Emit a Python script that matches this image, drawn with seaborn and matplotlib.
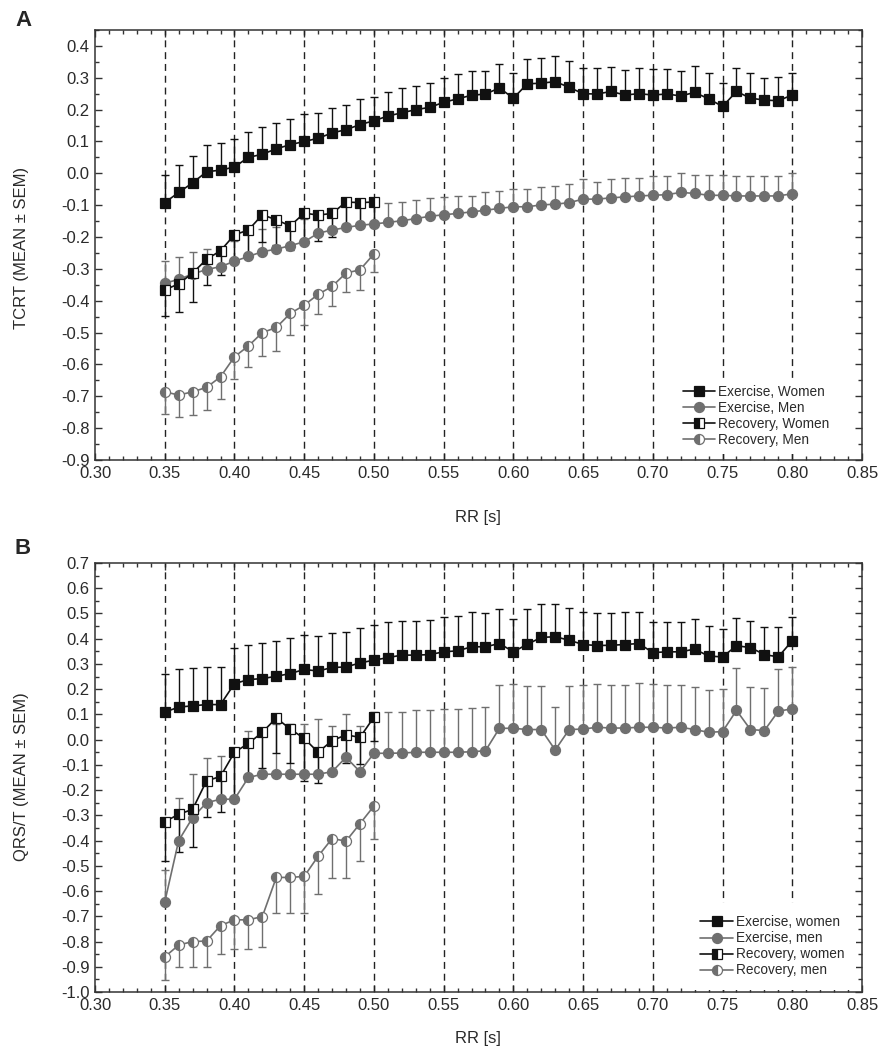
import numpy as np
import pandas as pd
import matplotlib
matplotlib.use('Agg')
import matplotlib.pyplot as plt
import seaborn as sns
from matplotlib.ticker import MultipleLocator, FormatStrFormatter
from matplotlib.lines import Line2D

# RR grid (s)
rr_exercise = [0.35, 0.36, 0.37, 0.38, 0.39, 0.40, 0.41, 0.42, 0.43, 0.44, 0.45, 0.46,
               0.47, 0.48, 0.49, 0.50, 0.51, 0.52, 0.53, 0.54, 0.55, 0.56, 0.57, 0.58,
               0.59, 0.60, 0.61, 0.62, 0.63, 0.64, 0.65, 0.66, 0.67, 0.68, 0.69, 0.70,
               0.71, 0.72, 0.73, 0.74, 0.75, 0.76, 0.77, 0.78, 0.79, 0.80]
rr_recovery = [0.35, 0.36, 0.37, 0.38, 0.39, 0.40, 0.41, 0.42, 0.43, 0.44, 0.45, 0.46,
               0.47, 0.48, 0.49, 0.50]

# Panel A: TCRT
tcrt_ex_women = [-0.092, -0.06, -0.03, 0.005, 0.01, 0.02, 0.05, 0.06, 0.077, 0.09, 0.10, 0.11,
                 0.127, 0.137, 0.153, 0.165, 0.18, 0.19, 0.20, 0.207, 0.223, 0.234, 0.245, 0.249,
                 0.268, 0.236, 0.281, 0.283, 0.288, 0.27, 0.25, 0.249, 0.257, 0.246, 0.25, 0.246,
                 0.249, 0.243, 0.254, 0.234, 0.21, 0.257, 0.236, 0.23, 0.228, 0.246]
tcrt_ex_women_sem = [0.087, 0.085, 0.085, 0.085, 0.085, 0.088, 0.08, 0.085, 0.081, 0.08, 0.086, 0.08,
                     0.078, 0.078, 0.08, 0.075, 0.074, 0.078, 0.075, 0.078, 0.077, 0.078, 0.075, 0.071,
                     0.076, 0.079, 0.077, 0.078, 0.081, 0.083, 0.08, 0.081, 0.078, 0.079, 0.082, 0.081,
                     0.08, 0.077, 0.084, 0.081, 0.075, 0.075, 0.079, 0.068, 0.076, 0.069]
tcrt_ex_men = [-0.345, -0.333, -0.316, -0.302, -0.293, -0.276, -0.261, -0.246, -0.238, -0.227, -0.215, -0.188,
               -0.178, -0.17, -0.163, -0.159, -0.154, -0.149, -0.142, -0.135, -0.13, -0.126, -0.121, -0.116,
               -0.11, -0.105, -0.105, -0.099, -0.097, -0.092, -0.081, -0.081, -0.077, -0.074, -0.071, -0.069,
               -0.067, -0.06, -0.063, -0.069, -0.069, -0.071, -0.071, -0.071, -0.071, -0.064]
tcrt_ex_men_sem = [0.07, 0.07, 0.07, 0.065, 0.06, 0.065, 0.07, 0.07, 0.068, 0.07, 0.072, 0.07,
                   0.07, 0.068, 0.068, 0.073, 0.06, 0.06, 0.058, 0.058, 0.056, 0.055, 0.05, 0.056,
                   0.055, 0.055, 0.055, 0.056, 0.057, 0.057, 0.062, 0.054, 0.058, 0.06, 0.057, 0.061,
                   0.059, 0.06, 0.058, 0.064, 0.064, 0.063, 0.063, 0.063, 0.063, 0.064]
tcrt_rec_women = [-0.366, -0.347, -0.313, -0.27, -0.243, -0.193, -0.178, -0.13, -0.146, -0.165, -0.125,
                  -0.131, -0.126, -0.09, -0.092, -0.09]
tcrt_rec_women_sem = [0.082, 0.087, 0.09, 0.08, 0.075, 0.085, 0.085, 0.085, 0.08, 0.075, 0.085,
                      0.08, 0.075, 0.07, 0.07, 0.07]
tcrt_rec_men = [-0.686, -0.696, -0.686, -0.672, -0.639, -0.576, -0.542, -0.50, -0.484, -0.44, -0.414,
                -0.38, -0.355, -0.313, -0.303, -0.253]
tcrt_rec_men_sem = [0.071, 0.07, 0.074, 0.071, 0.07, 0.07, 0.065, 0.073, 0.073, 0.068, 0.063,
                    0.063, 0.063, 0.058, 0.062, 0.057]

# Panel B: QRS/T
qrst_ex_women = [0.109, 0.129, 0.134, 0.139, 0.139, 0.222, 0.238, 0.242, 0.251, 0.262, 0.278, 0.272,
                 0.286, 0.288, 0.304, 0.315, 0.325, 0.335, 0.335, 0.337, 0.348, 0.352, 0.368, 0.368,
                 0.381, 0.348, 0.378, 0.405, 0.408, 0.394, 0.377, 0.373, 0.374, 0.377, 0.381, 0.345,
                 0.348, 0.348, 0.359, 0.331, 0.328, 0.372, 0.365, 0.337, 0.328, 0.392]
qrst_ex_women_sem = [0.151, 0.149, 0.148, 0.149, 0.149, 0.143, 0.139, 0.142, 0.141, 0.139, 0.136, 0.138,
                     0.138, 0.14, 0.137, 0.139, 0.142, 0.136, 0.136, 0.137, 0.139, 0.139, 0.137, 0.132,
                     0.136, 0.13, 0.139, 0.132, 0.13, 0.127, 0.13, 0.127, 0.129, 0.128, 0.125, 0.122,
                     0.119, 0.119, 0.119, 0.121, 0.109, 0.111, 0.106, 0.108, 0.117, 0.095]
qrst_ex_men = [-0.644, -0.40, -0.309, -0.25, -0.236, -0.236, -0.15, -0.137, -0.137, -0.137, -0.137, -0.137,
               -0.127, -0.07, -0.127, -0.054, -0.054, -0.053, -0.05, -0.05, -0.05, -0.05, -0.048, -0.044,
               0.045, 0.045, 0.04, 0.04, -0.041, 0.04, 0.042, 0.049, 0.046, 0.046, 0.049, 0.049,
               0.046, 0.049, 0.04, 0.029, 0.032, 0.116, 0.04, 0.036, 0.113, 0.122]
qrst_ex_men_sem = [0.129, 0.17, 0.172, 0.176, 0.17, 0.18, 0.186, 0.179, 0.2, 0.2, 0.2, 0.217,
                   0.18, 0.172, 0.183, 0.163, 0.163, 0.162, 0.168, 0.168, 0.172, 0.172, 0.173, 0.173,
                   0.17, 0.174, 0.172, 0.172, 0.17, 0.171, 0.173, 0.173, 0.172, 0.172, 0.175, 0.173,
                   0.172, 0.169, 0.168, 0.169, 0.17, 0.166, 0.168, 0.169, 0.165, 0.166]
qrst_rec_women = [-0.325, -0.296, -0.276, -0.163, -0.146, -0.05, -0.015, 0.029, 0.086, 0.042, 0.005,
                  -0.05, -0.004, 0.019, 0.009, 0.089]
qrst_rec_women_sem = [0.157, 0.15, 0.15, 0.145, 0.14, 0.18, 0.15, 0.14, 0.137, 0.135, 0.168,
                      0.12, 0.12, 0.11, 0.106, 0.093]
qrst_rec_men = [-0.861, -0.814, -0.80, -0.798, -0.737, -0.714, -0.714, -0.701, -0.546, -0.546, -0.542,
                -0.462, -0.392, -0.402, -0.333, -0.263]
qrst_rec_men_sem = [0.093, 0.086, 0.10, 0.102, 0.114, 0.117, 0.117, 0.119, 0.139, 0.139, 0.143,
                    0.15, 0.156, 0.146, 0.149, 0.129]

labels_a = ['Exercise, Women', 'Exercise, Men', 'Recovery, Women', 'Recovery, Men']
labels_b = ['Exercise, women', 'Exercise, men', 'Recovery, women', 'Recovery, men']

BLACK = '#111111'
GRAY = '#6f6f6f'

sns.set_style('ticks')
plt.rcParams['font.family'] = ['Liberation Sans', 'DejaVu Sans']
plt.rcParams['axes.unicode_minus'] = False

W, H = 884, 1052


def series_style(color, marker, half):
    kw = dict(color=color, marker=marker, markersize=7.2 if marker == 'o' else 6.8,
              markeredgecolor=color, markeredgewidth=0.9, markerfacecolor=color, lw=1.2)
    if half:
        kw.update(fillstyle='left', markerfacecoloralt='white')
    return kw


def draw_series(ax, x, y, sem, color, marker, half, upward):
    sem = np.asarray(sem)
    zeros = np.zeros(len(sem))
    yerr = [zeros, sem] if upward else [sem, zeros]
    ax.errorbar(x, y, yerr=yerr, fmt='none', ecolor=color, elinewidth=1.0,
                capsize=3, capthick=1.0, zorder=2)
    df = pd.DataFrame({'RR': x, 'value': y})
    sns.lineplot(data=df, x='RR', y='value', ax=ax, errorbar=None, zorder=3,
                 **series_style(color, marker, half))


def style_axes(ax, ylim, ylab_text, center_y, xlab_y):
    ax.set_xlim(0.30, 0.85)
    ax.set_ylim(*ylim)
    ax.xaxis.set_major_locator(MultipleLocator(0.05))
    ax.xaxis.set_minor_locator(MultipleLocator(0.01))
    ax.yaxis.set_major_locator(MultipleLocator(0.1))
    ax.yaxis.set_minor_locator(MultipleLocator(0.05))
    ax.xaxis.set_major_formatter(FormatStrFormatter('%.2f'))
    ax.yaxis.set_major_formatter(FormatStrFormatter('%.1f'))
    ax.tick_params(which='both', direction='in', top=True, right=True, width=1.0,
                   labelsize=12, labelcolor='#2a2a2a', color='#333333')
    ax.tick_params(which='major', length=5, pad=4)
    ax.tick_params(which='minor', length=3)
    for s in ax.spines.values():
        s.set_linewidth(1.1)
        s.set_color('#333333')
    ax.set_xlabel('')
    ax.set_ylabel('')
    for v in [0.35, 0.40, 0.45, 0.50, 0.55, 0.60, 0.65, 0.70, 0.75, 0.80]:
        ax.axvline(v, color='#222222', lw=1.0, ls=(0, (5, 3.5)), zorder=1)
    fig.text(22 / W, 1 - center_y / H, ylab_text, rotation=90, ha='center', va='center',
             fontsize=12, color='#2a2a2a')
    fig.text(478 / W, 1 - xlab_y / H, 'RR [s]', ha='center', va='center',
             fontsize=12, color='#2a2a2a')


def add_legend(ax, labels, x_px, y_px, pad):
    handles = [
        Line2D([], [], **series_style(BLACK, 's', False)),
        Line2D([], [], **series_style(GRAY, 'o', False)),
        Line2D([], [], **series_style(BLACK, 's', True)),
        Line2D([], [], **series_style(GRAY, 'o', True)),
    ]
    leg = ax.legend(handles, labels, loc='upper left',
                    bbox_to_anchor=(x_px / W, 1 - y_px / H), bbox_transform=fig.transFigure,
                    fontsize=9.8, frameon=True, facecolor='white', edgecolor='none', framealpha=1,
                    borderpad=pad, labelspacing=0.15, handlelength=2.4, handletextpad=0.2,
                    borderaxespad=0)
    leg.set_zorder(5)
    for t in leg.get_texts():
        t.set_color('#2a2a2a')


fig = plt.figure(figsize=(W / 100, H / 100), dpi=100)

# Panel A
ax_a = fig.add_axes([95 / W, 1 - 460 / H, 767 / W, 430 / H])
draw_series(ax_a, rr_exercise, tcrt_ex_men, tcrt_ex_men_sem, GRAY, 'o', False, True)
draw_series(ax_a, rr_recovery, tcrt_rec_men, tcrt_rec_men_sem, GRAY, 'o', True, False)
draw_series(ax_a, rr_recovery, tcrt_rec_women, tcrt_rec_women_sem, BLACK, 's', True, False)
draw_series(ax_a, rr_exercise, tcrt_ex_women, tcrt_ex_women_sem, BLACK, 's', False, True)
style_axes(ax_a, (-0.9, 0.45), 'TCRT (MEAN \u00b1 SEM)', 248, 518)
add_legend(ax_a, labels_a, 676, 378, 0.5)

# Panel B
ax_b = fig.add_axes([95 / W, 1 - 992 / H, 767 / W, 429 / H])
draw_series(ax_b, rr_exercise, qrst_ex_men, qrst_ex_men_sem, GRAY, 'o', False, True)
draw_series(ax_b, rr_recovery, qrst_rec_men, qrst_rec_men_sem, GRAY, 'o', True, False)
draw_series(ax_b, rr_recovery, qrst_rec_women, qrst_rec_women_sem, BLACK, 's', True, False)
draw_series(ax_b, rr_exercise, qrst_ex_women, qrst_ex_women_sem, BLACK, 's', False, True)
style_axes(ax_b, (-1.0, 0.7), 'QRS/T (MEAN \u00b1 SEM)', 777, 1038)
add_legend(ax_b, labels_b, 688, 903, 0.9)

fig.text(15 / W, 1 - 20 / H, 'A', fontsize=16, fontweight='bold', va='center')
fig.text(15 / W, 1 - 549 / H, 'B', fontsize=16, fontweight='bold', va='center')

fig.savefig('out.png', dpi=100)
